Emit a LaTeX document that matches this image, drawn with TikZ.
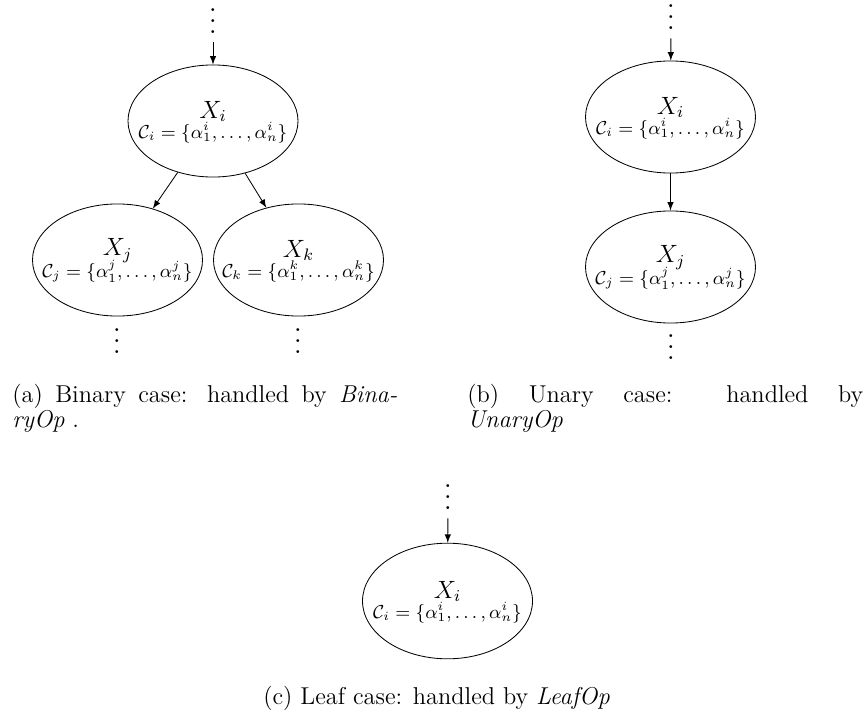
\documentclass[tikz,border=0pt]{standalone}
\usetikzlibrary{shapes.geometric}

\tikzset{
  var/.style={draw,ellipse,minimum width=81.6pt,minimum height=53.8pt,inner sep=0pt},
  vname/.style={inner sep=0pt,yshift=4.6pt,font=\fontsize{11.5}{13}\selectfont},
  vset/.style={inner sep=0pt,yshift=-5.4pt,font=\fontsize{8.8}{10}\selectfont},
  dots/.style={inner sep=0pt,anchor=south},
  capt/.style={align=justify,inner sep=0pt,anchor=base west,font=\fontsize{11.7}{12}\selectfont},
}
\newcommand{\vd}{\scalebox{1.3}{\vbox{\baselineskip4pt\lineskiplimit0pt\hbox{.}\hbox{.}\hbox{.}}}}
\newcommand{\cset}[1]{$\mathcal{C}_{#1}=\{\alpha^{#1}_1,\ldots,\alpha^{#1}_n\}$}

\begin{document}
\begin{tikzpicture}[x=0.48pt,y=-0.48pt,>=latex]
  \useasboundingbox (0,0) rectangle (867,711);

  % (a) binary
  \node[dots] (a-top) at (213,34) {\vd};
  \node[var] (xi) at (213,121) {};
  \node[var] (xj) at (117.5,260) {};
  \node[var] (xk) at (298.5,260) {};
  \node[vname] (xi-n) at (xi) {$X_i$};
  \node[vset] (xi-s) at (xi) {\cset{i}};
  \node[vname] (xj-n) at (xj) {$X_j$};
  \node[vset] (xj-s) at (xj) {\cset{j}};
  \node[vname] (xk-n) at (xk) {$X_k$};
  \node[vset] (xk-s) at (xk) {\cset{k}};
  \node[dots] (a-left) at (117,354) {\vd};
  \node[dots] (a-right) at (298,354) {\vd};
  \draw[->,shorten <=4pt] (a-top) -- (xi);
  \draw[->] (xi) -- (xj);
  \draw[->] (xi) -- (xk);
  \node[capt,text width=184.8pt] (a-cap) at (12,402)
    {(a) Binary case: handled by \textit{Bina-}\linebreak\textit{ryOp} .};

  % (b) unary
  \node[dots] (b-top) at (671,30) {\vd};
  \node[var] (ui) at (670.5,117) {};
  \node[var] (uj) at (670.5,267) {};
  \node[vname] (ui-n) at (ui) {$X_i$};
  \node[vset] (ui-s) at (ui) {\cset{i}};
  \node[vname] (uj-n) at (uj) {$X_j$};
  \node[vset] (uj-s) at (uj) {\cset{j}};
  \node[dots] (b-bot) at (671,360) {\vd};
  \draw[->,shorten <=4pt] (b-top) -- (ui);
  \draw[->] (ui) -- (uj);
  \node[capt,text width=190pt] (b-cap) at (467,402)
    {(b) Unary case: handled by\linebreak\textit{UnaryOp}};

  % (c) leaf
  \node[dots] (c-top) at (448,510) {\vd};
  \node[var,minimum height=55.5pt] (li) at (447.5,601) {};
  \node[vname] (li-n) at (li) {$X_i$};
  \node[vset] (li-s) at (li) {\cset{i}};
  \draw[->,shorten <=4pt] (c-top) -- (li);
  \node[inner sep=0pt,anchor=base,font=\fontsize{11.7}{12}\selectfont] (c-cap) at (436.5,704)
    {(c) Leaf case: handled by \textit{LeafOp}};
\end{tikzpicture}
\end{document}
